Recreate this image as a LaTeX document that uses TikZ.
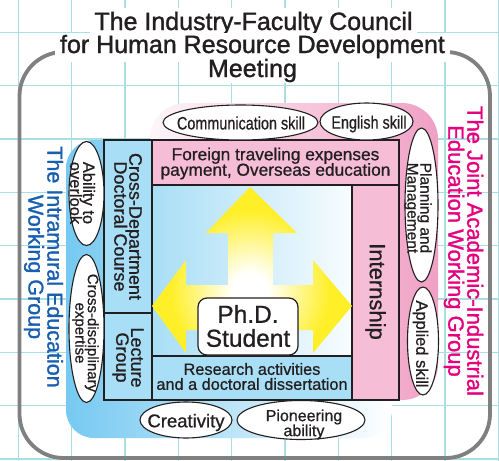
\documentclass[tikz,border=0pt]{standalone}
\usepackage{fontspec}
\setmainfont{Liberation Sans}[FakeBold=0.8]
\newfontfamily\condfont{Liberation Sans}[FakeStretch=0.8,FakeBold=0.6]
\newfontfamily\headfont{Liberation Sans}[FakeBold=1.3]
\usetikzlibrary{shapes.geometric}

\definecolor{gridcyan}{RGB}{170,222,229}
\definecolor{framegray}{RGB}{128,128,128}
\definecolor{cellblue}{RGB}{168,222,246}
\definecolor{cellpink}{RGB}{246,190,214}
\definecolor{zoneblue}{RGB}{118,201,241}
\definecolor{zonepink}{RGB}{240,160,197}
\definecolor{arrowyellow}{RGB}{255,239,40}
\definecolor{intrablue}{RGB}{25,95,175}
\definecolor{jointmagenta}{RGB}{228,0,127}
\definecolor{ink}{RGB}{35,31,32}

% soft white centre fading to yellow towards the arrow tips
\pgfdeclareradialshading{yglow}{\pgfpointorigin}{color(0bp)=(white); color(4bp)=(white); color(19bp)=(arrowyellow); color(25bp)=(arrowyellow); color(50bp)=(arrowyellow)}

% font size with a fixed line pitch
\newcommand\fs[2]{\fontsize{#1}{#2}\selectfont\lineskiplimit=-60pt\relax}

\begin{document}
\begin{tikzpicture}[x=1pt,y=-1pt,
  gridline/.style={draw=gridcyan, line width=1.3pt},
  frame/.style={draw=framegray, line width=3.8pt, rounded corners=44pt},
  titleline/.style={fill=white, text=ink, inner ysep=0pt, font=\headfont\fs{25}{25}, anchor=base},
  cellrule/.style={draw=ink, line width=1.2pt},
  celltext/.style={align=center, inner sep=0pt, text=ink},
  skill/.style={ellipse, draw=ink, fill=white, line width=1.1pt, inner sep=0pt},
  skilltext/.style={align=center, inner sep=0pt, text=ink},
  grouplabel/.style={align=center, inner sep=0pt, rotate=-90},
]
\useasboundingbox (0,0) rectangle (499,461);
\fill[white] (0,0) rectangle (499,461);

% background grid
\foreach \i in {0,...,9} \draw[gridline] (18.5+53.3*\i,0) -- (18.5+53.3*\i,461);
\foreach \j in {0,...,8} \draw[gridline] (0,32.5+53.3*\j) -- (499,32.5+53.3*\j);

% council frame
\draw[frame] (19.5,52) rectangle (490,458);

% council title
\node[titleline, text height=22pt, text depth=3pt, inner xsep=4pt] (title1) at (253.5,30) {The Industry-Faculty Council};
\node[titleline, text height=20pt, text depth=9pt, inner xsep=5pt] (title2) at (252.5,53) {for Human Resource Development};
\node[titleline, text height=15pt, text depth=6pt, inner xsep=8pt] (title3) at (252.5,77) {Meeting};

% working group zones
\shade[left color=zoneblue, right color=white, rounded corners=28pt] (66,140) rectangle (392,438);
\shade[left color=white!90!zonepink, right color=zonepink, rounded corners=36pt] (150,103) rectangle (438,400);

% programme cells
\fill[cellblue] (104,140) rectangle (152,400);
\fill[cellpink] (152,140) rectangle (399,185);
\fill[cellpink] (352,185) rectangle (399,400);
\fill[cellblue] (152,356) rectangle (352,400);
\shade[left color=cellblue, right color=white!92!cellblue] (152,185) rectangle (352,356);
\draw[cellrule] (104,140) rectangle (399,400);
\draw[cellrule] (152,140) -- (152,400);
\draw[cellrule] (104,313) -- (152,313);
\draw[cellrule] (152,185) -- (399,185);
\draw[cellrule] (352,185) -- (352,400);
\draw[cellrule] (152,356) -- (352,356);

% growth arrows
\begin{scope}
  \clip (250,187) -- (297,233) -- (273,233) -- (273,285) -- (313,285) -- (313,260)
     -- (352,306) -- (313,353) -- (313,330) -- (186,330) -- (186,353) -- (152,306)
     -- (186,260) -- (186,285) -- (228,285) -- (228,233) -- (206,233) -- cycle;
  \shade[shading=yglow] (250,290) circle (105pt);
\end{scope}

% cell texts
\node[celltext, font=\fs{17.3}{15.5}] (abroad) at (275.5,163.5) {Foreign traveling expenses\\payment, Overseas education};
\node[celltext, font=\fs{22}{22}, rotate=-90] (intern) at (375.5,291.5) {Internship};
\node[celltext, font=\fs{18}{15}, rotate=-90] (cdc) at (128,226.5) {Cross-Department\\Doctoral Course};
\node[celltext, font=\fs{18}{15}, rotate=-90] (lecture) at (128,357.5) {Lecture\\Group};
\node[celltext, font=\fs{16.3}{15}] (research) at (252,376.5) {Research activities\\and a doctoral dissertation};
\node[draw=ink, fill=white, line width=1.2pt, rounded corners=9pt, minimum width=100pt, minimum height=57pt,
      inner sep=0pt] (phd) at (248,326.5) {};
\node[celltext, font=\fs{24.5}{24}] (phdtext) at (248,326) {Ph.D.\\Student};

% skills
\node[skill, minimum width=155pt, minimum height=35pt] (comm) at (240.5,122.5) {};
\node[skilltext, font=\condfont\fs{18}{18}] at (241,123) {Communication skill};
\node[skill, minimum width=93pt, minimum height=37pt] (english) at (366.5,121.5) {};
\node[skilltext, font=\condfont\fs{18}{18}] at (369,124) {English skill};
\node[skill, rotate=-90, minimum width=154pt, minimum height=33pt] (plan) at (421.5,205) {};
\node[skilltext, rotate=-90, font=\fs{15.5}{13}] at (418,208) {Planning and\\Management};
\node[skill, rotate=-90, minimum width=108pt, minimum height=31pt] (applied) at (423,341) {};
\node[skilltext, rotate=-90, font=\fs{16.5}{16}] at (420.5,344) {Applied skill};
\node[skill, rotate=-90, minimum width=104pt, minimum height=35pt] (overlook) at (86.5,193.5) {};
\node[skilltext, rotate=-90, font=\fs{16.5}{13}] at (82.5,193) {Ability to\\overlook};
\node[skill, rotate=-90, minimum width=148pt, minimum height=35pt] (crossdisc) at (86.5,328.5) {};
\node[skilltext, rotate=-90, font=\fs{15}{12.5}] at (85.5,333) {Cross-disciplinary\\expertise};
\node[skill, minimum width=92pt, minimum height=36pt] (creative) at (186,420) {};
\node[skilltext, font=\fs{18.5}{18.5}] at (186,422.5) {Creativity};
\node[skill, minimum width=128pt, minimum height=39pt] (pioneer) at (301,420) {};
\node[skilltext, font=\fs{16}{15}] at (304,424.5) {Pioneering\\ability};

% working group names
\node[grouplabel, text=intrablue, font=\headfont\fs{21.5}{19}] (intra) at (43.5,267) {The Intramural Education\\Working Group};
\node[grouplabel, text=jointmagenta, font=\headfont\fs{22}{19}] (joint) at (463.5,251) {The Joint Academic-Industrial\\Education Working Group};
\end{tikzpicture}
\end{document}
